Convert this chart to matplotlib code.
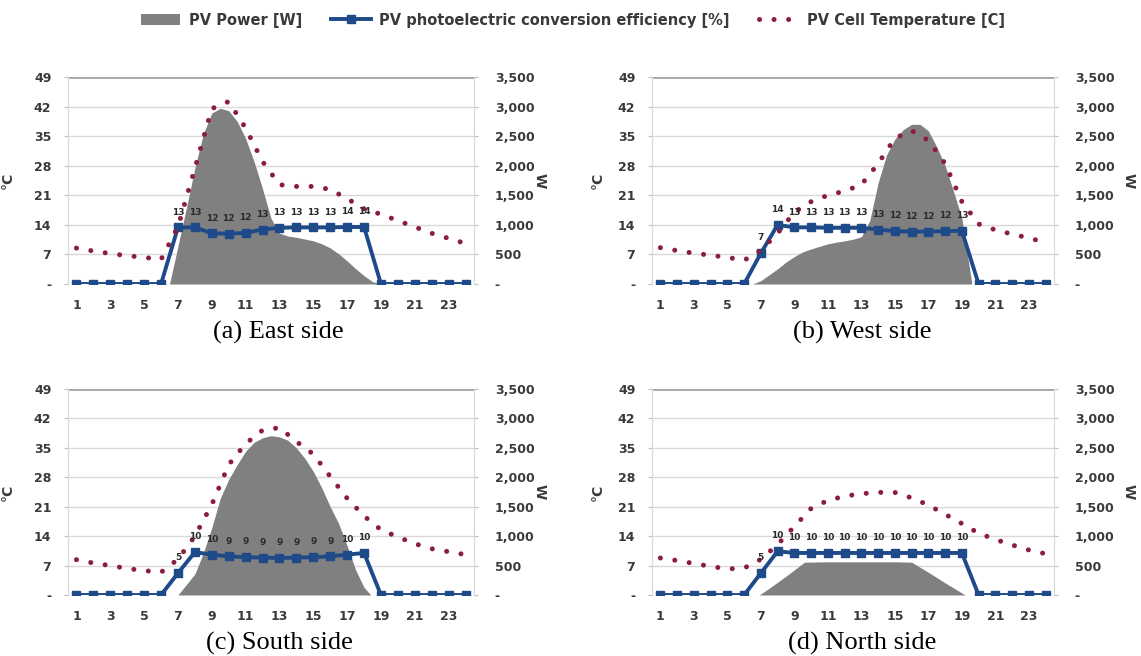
import matplotlib
matplotlib.use("Agg")
import matplotlib.pyplot as plt
from matplotlib.lines import Line2D
from matplotlib.patches import Patch

hours = list(range(1, 25))

# ---- East ----
east_temp = [8.5, 7.8, 7.2, 6.7, 6.3, 5.8, 13.5, 27.4, 41.5, 43.2, 36.9, 29.0,
             23.5, 23.1, 23.1, 22.4, 20.2, 17.8, 16.5, 15.0, 13.5, 12.0, 10.8, 9.6]
east_eff = [0, 0, 0, 0, 0, 0, 13.4, 13.4, 12.0, 11.9, 12.1, 12.9,
            13.3, 13.4, 13.4, 13.4, 13.5, 13.5, 0, 0, 0, 0, 0, 0]
east_pw_t = [6.5, 7, 7.5, 8, 8.5, 9, 9.5, 10, 10.5, 11, 11.5, 12, 12.5, 13,
             13.5, 14, 14.5, 15, 15.5, 16, 16.5, 17, 17.5, 18, 18.5, 19]
east_pw = [0, 640, 1290, 1960, 2540, 2890, 2970, 2930, 2750, 2460, 2070, 1610,
           1110, 860, 810, 790, 760, 730, 680, 610, 510, 390, 260, 140, 40, 0]

# ---- West ----
west_temp = [8.6, 7.9, 7.3, 6.8, 6.3, 5.6, 8.0, 12.0, 17.0, 19.5, 21.0, 22.0,
             23.5, 28.5, 34.5, 36.3, 34.0, 28.5, 19.5, 14.2, 12.8, 11.8, 10.9, 9.8]
west_eff = [0, 0, 0, 0, 0, 0, 7.3, 14.0, 13.4, 13.4, 13.3, 13.3,
            13.3, 12.9, 12.5, 12.4, 12.4, 12.5, 12.6, 0, 0, 0, 0, 0]
west_pw_t = [6.5, 7, 7.5, 8, 8.5, 9, 9.5, 10, 10.5, 11, 11.5, 12, 12.5, 13,
             13.5, 14, 14.5, 15, 15.5, 16, 16.5, 17, 17.5, 18, 18.5, 19, 19.6]
west_pw = [0, 57, 157, 257, 371, 464, 543, 593, 636, 679, 707, 729, 757, 800,
           1070, 1710, 2180, 2450, 2610, 2700, 2700, 2590, 2320, 2000, 1570, 1110, 0]

# ---- South ----
south_temp = [8.4, 7.6, 7.0, 6.3, 5.8, 5.4, 8.5, 14.0, 21.5, 31.0, 36.0, 39.2,
              39.8, 36.5, 33.5, 28.2, 23.0, 18.8, 15.5, 13.8, 12.2, 11.0, 10.3, 9.6]
south_eff = [0, 0, 0, 0, 0, 0, 5.2, 10.2, 9.6, 9.2, 9.0, 8.9,
             8.8, 8.9, 9.0, 9.2, 9.6, 10.0, 0, 0, 0, 0, 0, 0]
south_pw_t = [7, 7.5, 8, 8.5, 9, 9.5, 10, 10.5, 11, 11.5, 12, 12.5, 13, 13.5,
              14, 14.5, 15, 15.5, 16, 16.5, 17, 17.5, 18, 18.4]
south_pw = [0, 179, 357, 714, 1143, 1643, 1964, 2214, 2443, 2593, 2671, 2707,
            2686, 2629, 2500, 2321, 2100, 1821, 1500, 1214, 836, 429, 129, 0]

# ---- North ----
north_temp = [8.8, 8.2, 7.5, 6.8, 6.2, 6.4, 8.5, 12.0, 16.3, 20.6, 22.5, 23.5,
              24.1, 24.4, 24.4, 23.1, 21.4, 19.2, 17.0, 14.7, 13.2, 11.9, 10.7, 9.8]
north_eff = [0, 0, 0, 0, 0, 0, 5.2, 10.4, 10.0, 10.0, 10.0, 10.0,
             10.0, 10.0, 10.0, 10.0, 10.0, 10.0, 10.0, 0, 0, 0, 0, 0]
north_pw_t = [6.9, 7.5, 8.5, 9.6, 11, 13, 15, 16, 17, 18, 19.2]
north_pw = [0, 115, 320, 557, 564, 564, 564, 557, 386, 207, 0]

captions = ["(a) East side", "(b) West side", "(c) South side", "(d) North side"]
left_ticks = [0, 7, 14, 21, 28, 35, 42, 49]
left_labels = ["-", "7", "14", "21", "28", "35", "42", "49"]
right_ticks = [0, 500, 1000, 1500, 2000, 2500, 3000, 3500]
right_labels = ["-", "500", "1,000", "1,500", "2,000", "2,500", "3,000", "3,500"]
x_ticks = list(range(1, 24, 2))

panels = [
    (east_temp, east_eff, east_pw_t, east_pw),
    (west_temp, west_eff, west_pw_t, west_pw),
    (south_temp, south_eff, south_pw_t, south_pw),
    (north_temp, north_eff, north_pw_t, north_pw),
]

W, H = 1141, 656
fig = plt.figure(figsize=(W / 100, H / 100), dpi=100)

TICKFONT = ["DejaVu Sans"]
GRAY_AREA = "#808080"
BLUE = "#1F4A8A"
RED = "#8B1E3F"
TXT = "#3A3A3A"

# pixel boxes (left, right, top, bottom)
boxes = [(68, 474, 77, 284), (652, 1054, 77, 284),
         (68, 474, 389, 595), (652, 1054, 389, 595)]
cap_pos = [(278, 332), (862, 332), (279, 643), (862, 643)]

for i, (temp, eff, pw_t, pw) in enumerate(panels):
    l, r, t, b = boxes[i]
    ax = fig.add_axes([l / W, 1 - b / H, (r - l) / W, (b - t) / H])
    ax2 = ax.twinx()
    ax.set_zorder(ax2.get_zorder() + 1)
    ax.patch.set_visible(False)
    ax2.patch.set_facecolor("white")

    # power area (right axis)
    ax2.fill_between(pw_t, pw, 0, color=GRAY_AREA, lw=0, zorder=2)
    ax2.set_ylim(0, 3500)
    ax2.set_yticks(right_ticks)
    ax2.set_yticklabels(right_labels)
    for yv in right_ticks[1:-1]:
        ax2.axhline(yv, color="#D9D9D9", lw=1.0, zorder=1)
    ax2.axhline(3500, color="#A6A6A6", lw=2.0, zorder=1)

    # efficiency line and temperature dotted line (left axis)
    ax.plot(hours, eff, color=BLUE, lw=2.8, marker="s", ms=6,
            mfc=BLUE, mec=BLUE, zorder=3)
    ax.plot(hours, temp, color=RED, lw=3.6, linestyle=(0, (0.01, 2.9)),
            dash_capstyle="round", zorder=4)
    for h, v in zip(hours, eff):
        if v > 0:
            ax.annotate(f"{v:.0f}", (h, v), xytext=(0, 11), textcoords="offset points",
                        ha="center", va="center", fontsize=6.5, fontweight="bold",
                        color="#2B2B2B", family=TICKFONT, zorder=6)

    ax.set_xlim(0.5, 24.5)
    ax.set_ylim(0, 49)
    ax.set_yticks(left_ticks)
    ax.set_yticklabels(left_labels)
    ax.set_xticks(x_ticks)
    ax.set_xticklabels([str(x) for x in x_ticks])

    for a in (ax, ax2):
        for s in a.spines.values():
            s.set_color("#D9D9D9")
            s.set_linewidth(0.8)
        a.spines["bottom"].set_visible(False)
        a.spines["top"].set_visible(False)

    ax.tick_params(axis="x", length=0, pad=11, labelsize=9, labelcolor=TXT)
    ax.tick_params(axis="y", length=3, color="#BFBFBF", pad=9, labelsize=9, labelcolor=TXT)
    ax2.tick_params(axis="y", length=3, color="#BFBFBF", pad=12, labelsize=9, labelcolor=TXT)
    for lab in ax.get_xticklabels() + ax.get_yticklabels() + ax2.get_yticklabels():
        lab.set_family(TICKFONT)
        lab.set_fontweight("bold")
    for lab in ax2.get_yticklabels():
        lab.set_horizontalalignment("left")

    ax.set_ylabel("°C", fontsize=10, fontweight="bold", color=TXT, family=TICKFONT)
    ax2.set_ylabel("W", fontsize=10, fontweight="bold", color=TXT, family=TICKFONT,
                   rotation=270)
    wpx = r - l
    lx = 15 if i % 2 == 0 else 605
    rx = 547 if i % 2 == 0 else 1136
    ax.yaxis.set_label_coords((lx - l) / wpx, 0.5)
    ax2.yaxis.set_label_coords((rx - l) / wpx, 0.5)

    cx, cy = cap_pos[i]
    fig.text(cx / W, 1 - cy / H, captions[i], ha="center", va="center",
             fontsize=19, family=["Liberation Serif", "DejaVu Serif"], color="black")

handles = [
    Patch(facecolor=GRAY_AREA, edgecolor="none"),
    Line2D([0], [0], color=BLUE, lw=2.8, marker="s", ms=6),
    Line2D([0], [0], color=RED, lw=3.6, linestyle=(0, (0.01, 2.9)), dash_capstyle="round"),
]
labels = ["PV Power [W]", "PV photoelectric conversion efficiency [%]",
          "PV Cell Temperature [C]"]
fig.legend(handles, labels, loc="center", bbox_to_anchor=(573 / W, 1 - 20 / H),
           ncol=3, frameon=False, prop={"family": TICKFONT, "weight": "bold", "size": 10.5},
           handlelength=2.7, columnspacing=2.0, handletextpad=0.6, labelcolor=TXT)

fig.savefig("out.png", dpi=100)
